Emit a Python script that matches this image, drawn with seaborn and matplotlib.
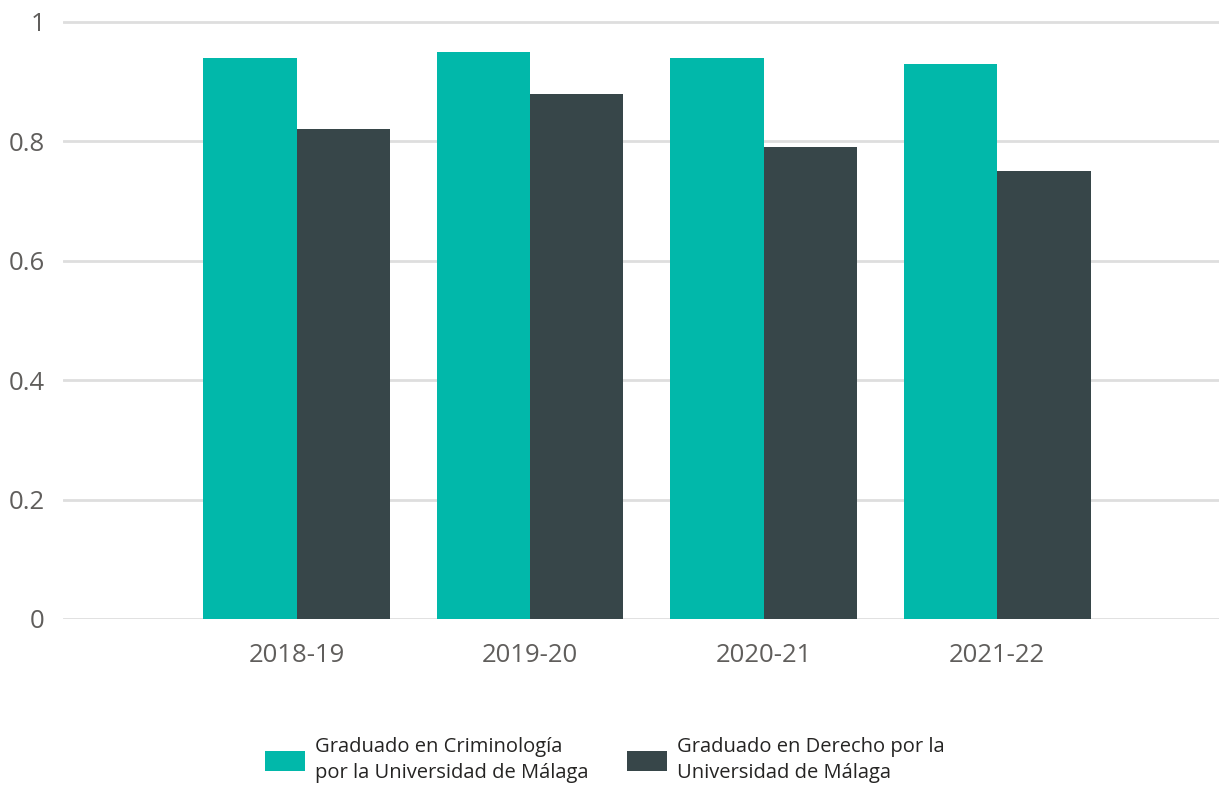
import pandas as pd
import numpy as np
import matplotlib
matplotlib.use('Agg')
import matplotlib.pyplot as plt
import seaborn as sns

cursos = ['2018-19', '2019-20', '2020-21', '2021-22']
titulaciones = ['Graduado en Criminología\npor la Universidad de Málaga',
                'Graduado en Derecho por la\nUniversidad de Málaga']
criminologia = [0.94, 0.95, 0.94, 0.93]
derecho = [0.82, 0.88, 0.79, 0.75]
colores = ['#01B8AA', '#374649']

df = pd.DataFrame({
    'curso': cursos * 2,
    'valor': criminologia + derecho,
    'titulacion': [titulaciones[0]] * len(cursos) + [titulaciones[1]] * len(cursos),
})

sns.set_theme(style='white')
plt.rcParams['font.family'] = ['Open Sans', 'DejaVu Sans']

fig = plt.figure(figsize=(12.19, 7.85), dpi=100)
ax = fig.add_axes([0.0517, 0.2115, 0.9483, 0.7758])

sns.barplot(data=df, x='curso', y='valor', hue='titulacion', order=cursos,
            hue_order=titulaciones, palette=colores, saturation=1, width=0.8,
            linewidth=0, ax=ax)

ax.set_xlim(-1.0, 3.95)
ax.set_ylim(0, 1.02)
ax.set_yticks([0, 0.2, 0.4, 0.6, 0.8, 1])
ax.set_yticklabels(['0', '0.2', '0.4', '0.6', '0.8', '1'])
ax.yaxis.grid(True, color='#DEDEDE', linewidth=2)
ax.set_axisbelow(True)
for s in ax.spines.values():
    s.set_visible(False)
ax.tick_params(axis='both', length=0, colors='#605E5C', labelsize=18.5)
ax.tick_params(axis='y', pad=13)
ax.tick_params(axis='x', pad=17)
ax.set_xlabel('')
ax.set_ylabel('')

handles, labels = ax.get_legend_handles_labels()
ax.get_legend().remove()
leg = fig.legend(handles, labels, loc='center', bbox_to_anchor=(0.496, 0.032), ncol=2,
                 frameon=False, fontsize=14.5, handlelength=2.0, handleheight=1.15,
                 handletextpad=0.5, columnspacing=1.9, labelcolor='#252423')
for t in leg.get_texts():
    t.set_linespacing(1.35)

fig.savefig('out.png', dpi=100)
